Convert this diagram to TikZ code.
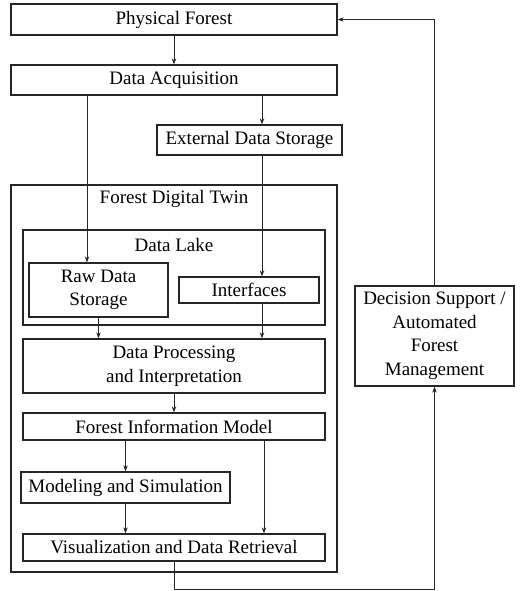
\documentclass[tikz,border=0pt]{standalone}
\usepackage{fontspec}
\setmainfont{Liberation Serif}
\usetikzlibrary{arrows.meta}
\begin{document}
\begin{tikzpicture}[x=1pt,y=-1pt,
  box/.style={draw=black!85,line width=1.3pt,rectangle,inner sep=0pt,align=center,
    font=\fontsize{19}{23.5}\selectfont},
  lbl/.style={inner sep=0pt,font=\fontsize{19}{23.5}\selectfont},
  arr/.style={draw=black!85,line width=0.8pt,-{Stealth[length=6pt,width=4.5pt]}},
  ln/.style={draw=black!85,line width=0.8pt}]
\useasboundingbox (0,0) rectangle (519,591);
\node[box,minimum width=326pt,minimum height=31pt] (pf) at (174,19.5) {Physical Forest};
\node[box,minimum width=326pt,minimum height=30pt] (da) at (174,80) {Data Acquisition};
\node[box,minimum width=185pt,minimum height=30pt] (eds) at (249.5,140) {External Data Storage};
\node[box,minimum width=326pt,minimum height=387pt] (fdt) at (174,378.5) {};
\node[lbl] (fdtl) at (174,199) {Forest Digital Twin};
\node[box,minimum width=302pt,minimum height=95pt] (dl) at (174,277.5) {};
\node[lbl] (dll) at (174,245) {Data Lake};
\node[box,minimum width=139pt,minimum height=54pt] (raw) at (98.5,290) {Raw Data\\Storage};
\node[box,minimum width=140pt,minimum height=26pt] (intf) at (249,290) {Interfaces};
\node[box,minimum width=302pt,minimum height=54pt] (dpi) at (174,366) {Data Processing\\and Interpretation};
\node[box,minimum width=302pt,minimum height=27pt] (fim) at (174,426.5) {Forest Information Model};
\node[box,minimum width=209pt,minimum height=31pt] (ms) at (125.5,487.5) {Modeling and Simulation};
\node[box,minimum width=302pt,minimum height=27pt] (vdr) at (174,547.5) {Visualization and Data Retrieval};
\node[box,minimum width=159pt,minimum height=100pt] (ds) at (434.5,336) {Decision Support /\\Automated\\Forest\\Management};
\coordinate (xl) at (87,0);
\coordinate (xr) at (262,0);
\coordinate (xr2) at (264,0);
\coordinate (bot) at (0,589);
\draw[arr] (pf.south) -- (da.north);
\draw[arr] (da.south -| xl) -- (raw.north -| xl);
\draw[arr] (da.south -| xr) -- (eds.north -| xr);
\draw[arr] (eds.south -| xr) -- (intf.north -| xr);
\draw[arr] (raw.south) -- (dpi.north -| raw.south);
\draw[arr] (intf.south -| xr) -- (dpi.north -| xr);
\draw[arr] (dpi.south) -- (fim.north);
\draw[arr] (fim.south -| ms.north) -- (ms.north);
\draw[arr] (fim.south -| xr2) -- (vdr.north -| xr2);
\draw[arr] (ms.south) -- (vdr.north -| ms.south);
\draw[arr] (vdr.south) -- (vdr.south |- bot) -- (ds.south |- bot) -- (ds.south);
\draw[arr] (ds.north) -- (ds.north |- pf.east) -- (pf.east);
\end{tikzpicture}
\end{document}
